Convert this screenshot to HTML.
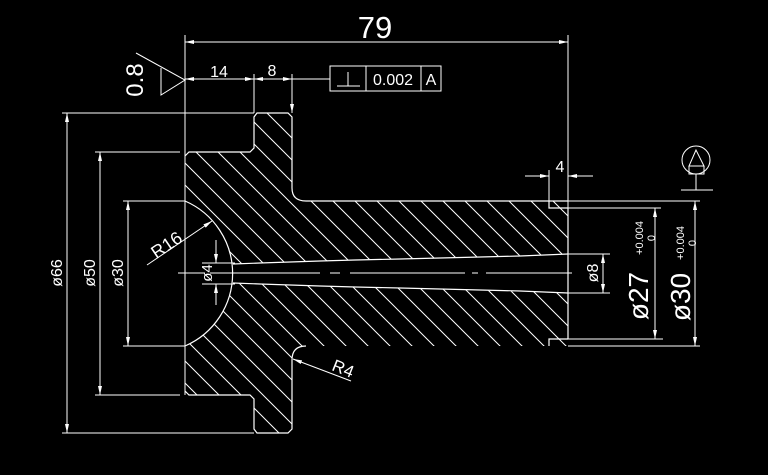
<!DOCTYPE html>
<html><head><meta charset="utf-8"><style>
html,body{margin:0;padding:0;background:#000;}
svg{display:block}
text{font-family:"Liberation Sans",sans-serif;fill:#fff;}
</style></head><body>
<svg width="768" height="475" viewBox="0 0 768 475" xmlns="http://www.w3.org/2000/svg">
<defs>
<pattern id="h" patternUnits="userSpaceOnUse" width="22" height="22">
<path d="M-11,-11 L33,33 M-11,11 L11,33 M11,-11 L33,11" stroke="#fff" stroke-width="1"/>
</pattern>
<clipPath id="body"><path d="M185,156 L189,152 L250,152 L254,148 L254,117 L257,113 L288,113 L292,117 L292,188 Q292,201 306,201 L568,201 L568,346 L306,346 Q292,346 292,360 L292,429 L288,433 L257,433 L254,429 L254,399 L250,395 L189,395 L185,391 Z"/></clipPath>
<marker id="a" markerWidth="10" markerHeight="6" refX="9" refY="3" orient="auto-start-reverse" markerUnits="userSpaceOnUse"><path d="M0,1 L9,3 L0,5 Z" fill="#fff"/></marker>
</defs>
<rect width="768" height="475" fill="#000"/>
<g clip-path="url(#body)">
<rect x="180" y="100" width="400" height="340" fill="url(#h)"/>
<circle cx="154" cy="273.5" r="79" fill="#000"/>
<path d="M233,264 L568,254 L568,293 L233,283 Z" fill="#000"/>
</g>
<g stroke="#fff" stroke-width="1.2" fill="none">
<path d="M185,156 L189,152 L250,152 L254,148 L254,117 L257,113 L288,113 L292,117 L292,188 Q292,201 306,201 L568,201 M568,208 L568,339 M306,346 Q292,346 292,360 L292,429 L288,433 L257,433 L254,429 L254,399 L250,395 L189,395 L185,391"/>
<path d="M185,201 A79,79 0 0 1 185,346"/>
<path d="M233,264 L260,263 L290,262 L320,261 L355,260 L400,259 L440,258 L480,257 L520,256 L568,254 M233,283 L260,284 L290,285 L320,286 L355,287 L400,288 L440,289 L480,290 L520,291 L568,293"/>
<path d="M549,201 L549,208 L568,208 M549,346 L549,339 L568,339"/>
</g>
<g stroke="#fff" stroke-width="1" fill="none">
<path d="M178,273 L205,273 M210,273 L320,273 M330,273 L340,273 M350,273 L465,273 M472,273 L478,273 M486,273 L572,273"/>
<path d="M185,35 L185,395 M568,35 L568,201 M568,140 L568,208 M254,74 L254,113 M292,74 L292,113"/>
<path d="M62,113 L254,113 M62,433 L254,433 M95,152 L180,152 M95,395 L180,395 M123,201 L185,201 M123,346 L185,346"/>
<path d="M568,201 L700,201 M568,346 L700,346 M568,208 L661,208 M568,339 L663,339 M568,254 L610,254 M568,293 L610,293 M549,170 L549,201"/>
<path d="M185,42 L568,42" marker-start="url(#a)" marker-end="url(#a)"/>
<path d="M185,79 L254,79" marker-start="url(#a)" marker-end="url(#a)"/>
<path d="M254,79 L292,79" marker-start="url(#a)" marker-end="url(#a)"/>
<path d="M292,79 L330,79"/>
<path d="M292,95 L292,113" marker-end="url(#a)"/>
<path d="M67,113 L67,433" marker-start="url(#a)" marker-end="url(#a)"/>
<path d="M100,152 L100,395" marker-start="url(#a)" marker-end="url(#a)"/>
<path d="M128,201 L128,346" marker-start="url(#a)" marker-end="url(#a)"/>
<path d="M216,240 L216,263" marker-end="url(#a)"/>
<path d="M216,305 L216,284" marker-end="url(#a)"/>
<path d="M202,263 L235,263 M202,284 L235,284"/>
<path d="M147,265 L212,221" marker-end="url(#a)"/>
<path d="M351,381 L293,359" marker-end="url(#a)"/>
<path d="M603,254 L603,293" marker-start="url(#a)" marker-end="url(#a)"/>
<path d="M655,208 L655,339" marker-start="url(#a)" marker-end="url(#a)"/>
<path d="M695,201 L695,346" marker-start="url(#a)" marker-end="url(#a)"/>
<path d="M525,176 L549,176" marker-end="url(#a)"/>
<path d="M593,176 L568,176" marker-end="url(#a)"/>
<rect x="330" y="66" width="111" height="25"/>
<path d="M366,66 L366,91 M421,66 L421,91"/>
<path d="M337,86 L360,86 M348,72 L348,86"/>
<path d="M136,53 L185,80 L161,95 L161,68"/>
<circle cx="696" cy="160" r="14"/>
<path d="M696,150 L689,166 L704,166 Z M689,166 L689,174 L704,174 L704,166 M696,174 L696,190 M681,190 L713,190"/>
</g>
<text x="375" y="38" font-size="31" text-anchor="middle">79</text>
<text x="219" y="77" font-size="16" text-anchor="middle">14</text>
<text x="272" y="76" font-size="16" text-anchor="middle">8</text>
<text x="393" y="85" font-size="16" text-anchor="middle">0.002</text>
<text x="431" y="85" font-size="16" text-anchor="middle">A</text>
<text x="560" y="172" font-size="16" text-anchor="middle">4</text>
<text transform="translate(143,80) rotate(-90)" font-size="24" text-anchor="middle">0.8</text>
<text transform="translate(62,273) rotate(-90)" font-size="16" text-anchor="middle">ø66</text>
<text transform="translate(95,273) rotate(-90)" font-size="16" text-anchor="middle">ø50</text>
<text transform="translate(123,273) rotate(-90)" font-size="16" text-anchor="middle">ø30</text>
<text transform="translate(212,273) rotate(-90)" font-size="15" text-anchor="middle">ø4</text>
<text transform="translate(170,250) rotate(-34)" font-size="18" text-anchor="middle">R16</text>
<text transform="translate(341,374) rotate(22)" font-size="17" text-anchor="middle">R4</text>
<text transform="translate(598,273) rotate(-90)" font-size="16" text-anchor="middle">ø8</text>
<text transform="translate(648,296) rotate(-90)" font-size="28" text-anchor="middle">ø27</text>
<text transform="translate(643,238) rotate(-90)" font-size="11" text-anchor="middle">+0.004</text>
<text transform="translate(655,238) rotate(-90)" font-size="11" text-anchor="middle">0</text>
<text transform="translate(690,297) rotate(-90)" font-size="28" text-anchor="middle">ø30</text>
<text transform="translate(684,243) rotate(-90)" font-size="11" text-anchor="middle">+0.004</text>
<text transform="translate(696,243) rotate(-90)" font-size="11" text-anchor="middle">0</text>
</svg>
</body></html>
